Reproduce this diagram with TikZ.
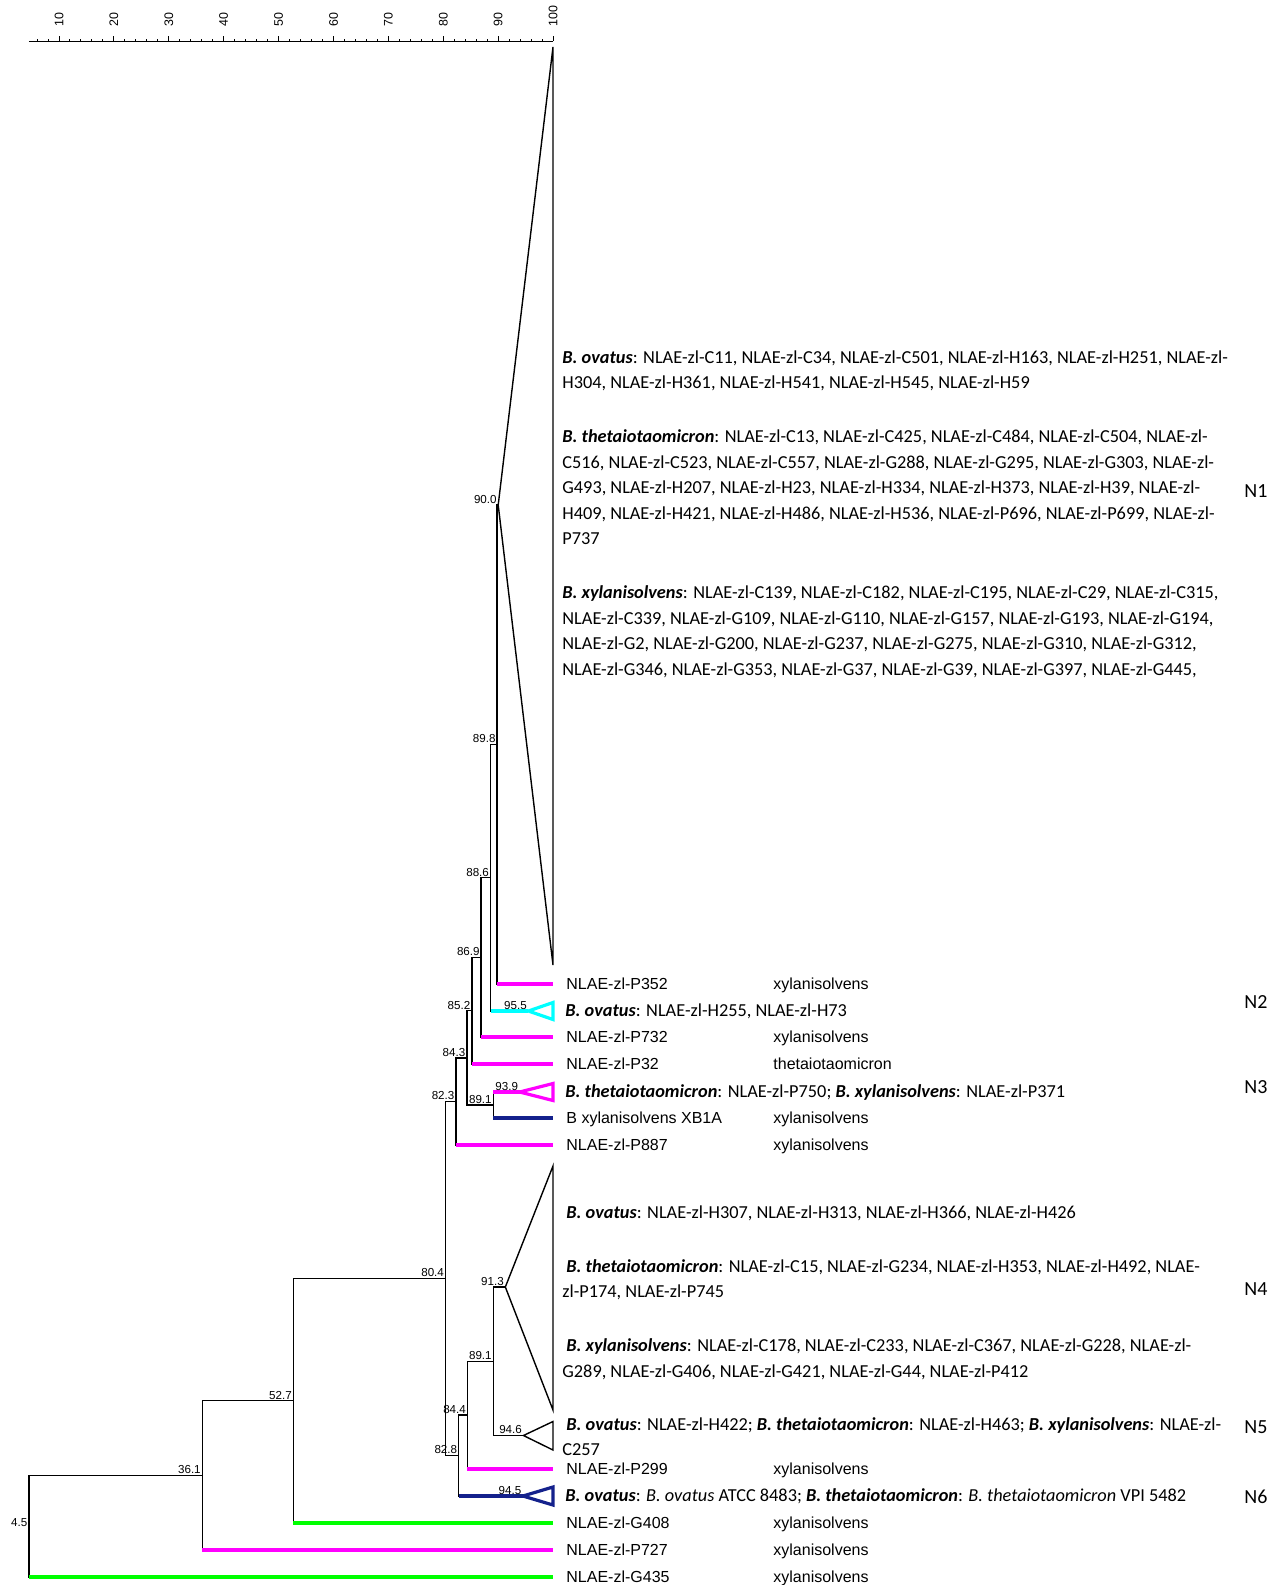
\documentclass[tikz,border=0pt]{standalone}
\usepackage{fontspec}
\setmainfont{Liberation Sans}
\newfontfamily\calib{Carlito}
\usetikzlibrary{calc,positioning}
\definecolor{treeMagenta}{HTML}{FF00FF}
\definecolor{treeCyan}{HTML}{00FFFF}
\definecolor{treeNavy}{HTML}{14218C}
\definecolor{treeGreen}{HTML}{00FF00}
\newcommand{\taxon}[1]{\textbf{\textit{#1}}}

\begin{document}
\begin{tikzpicture}[
  x=0.5pt, y=-0.5pt,
  declare function={bx(\v)=4.1+5.49*\v;},
  tree/.style={line width=0.7pt, black, line cap=rect},
  magline/.style={line width=1.6pt, treeMagenta},
  cyanline/.style={line width=1.6pt, treeCyan},
  navyline/.style={line width=1.6pt, treeNavy},
  greenline/.style={line width=1.6pt, treeGreen},
  ruler/.style={line width=0.5pt, black},
  boot/.style={font=\fontsize{5.8}{6}\selectfont, inner sep=0.6pt, anchor=south east},
  scalelab/.style={font=\fontsize{6.2}{7}\selectfont, inner sep=0pt, rotate=90, anchor=west},
  leaflab/.style={font=\fontsize{8}{9.6}\selectfont, inner sep=0pt, anchor=west, text height=5.7pt, text depth=0pt},
  grouplab/.style={font=\calib\fontsize{9.15}{12.75}\selectfont, inner sep=0pt, align=left, anchor=north west},
  clustlab/.style={font=\calib\fontsize{10}{12}\selectfont, inner sep=0pt},
]
\useasboundingbox (0,0) rectangle (1286,1585);

% Scale bar
\draw[ruler] ({bx(4.5)},41) -- (553,41);
\foreach \v in {6,8,...,98} {
  \draw[ruler] ({bx(\v)},41) -- ({bx(\v)},38.5);
}
\foreach \v in {10,20,...,100} {
  \draw[ruler] ({bx(\v)},41) -- ({bx(\v)},35.5);
  \node[scalelab] (sc\v) at ({bx(\v)},27) {\v};
}

% Collapsed clades (apex and corners)
\coordinate (n1) at ({bx(90.0)},505);
\coordinate (n1t) at (553,47);
\coordinate (n1b) at (553,965);
\coordinate (n2) at ({bx(95.5)},1011);
\coordinate (n2t) at (553,1002.5);
\coordinate (n2b) at (553,1019.5);
\coordinate (n3) at ({bx(93.9)},1092);
\coordinate (n3t) at (553,1083.5);
\coordinate (n3b) at (553,1100.5);
\coordinate (n4) at ({bx(91.3)},1287);
\coordinate (n4t) at (553,1166);
\coordinate (n4b) at (553,1410);
\coordinate (n5) at ({bx(94.6)},1435.5);
\coordinate (n5t) at (553,1421.5);
\coordinate (n5b) at (553,1450);
\coordinate (n6) at ({bx(94.5)},1496);
\coordinate (n6t) at (553,1487);
\coordinate (n6b) at (553,1505);

% Internal nodes
\coordinate (n898) at ({bx(89.8)},744.5);
\coordinate (n886) at ({bx(88.6)},877.75);
\coordinate (n869) at ({bx(86.9)},957.4);
\coordinate (n852) at ({bx(85.2)},1010.7);
\coordinate (n891a) at ({bx(89.1)},1105);
\coordinate (n843) at ({bx(84.3)},1057.9);
\coordinate (n823) at ({bx(82.3)},1101.4);
\coordinate (n891b) at ({bx(89.1)},1361.25);
\coordinate (n844) at ({bx(84.4)},1415.1);
\coordinate (n828) at ({bx(82.8)},1455.6);
\coordinate (n804) at ({bx(80.4)},1278.5);
\coordinate (n527) at ({bx(52.7)},1400.75);
\coordinate (n361) at ({bx(36.1)},1475.4);
\coordinate (n45) at ({bx(4.5)},1526.2);

% Single isolates
\foreach \n/\y/\lab/\kind in {
  P352/984/NLAE-zl-P352/xylanisolvens,
  P732/1037/NLAE-zl-P732/xylanisolvens,
  P32/1064/NLAE-zl-P32/thetaiotaomicron,
  XB1A/1118/B xylanisolvens XB1A/xylanisolvens,
  P887/1145/NLAE-zl-P887/xylanisolvens,
  P299/1469/NLAE-zl-P299/xylanisolvens,
  G408/1523/NLAE-zl-G408/xylanisolvens,
  P727/1550/NLAE-zl-P727/xylanisolvens,
  G435/1577/NLAE-zl-G435/xylanisolvens} {
  \coordinate (l\n) at (553,\y);
  \node[leaflab] (t\n) at (566,\y) {\lab};
  \node[leaflab] (s\n) at (773,\y) {\kind};
}

% Branches
\foreach \p/\c/\s in {
  n898/n1/tree, n898/lP352/magline,
  n886/n898/tree, n886/n2/cyanline,
  n869/n886/tree, n869/lP732/magline,
  n852/n869/tree, n852/lP32/magline,
  n891a/n3/magline, n891a/lXB1A/navyline,
  n843/n852/tree, n843/n891a/tree,
  n823/n843/tree, n823/lP887/magline,
  n891b/n4/tree, n891b/n5/tree,
  n844/n891b/tree, n844/lP299/magline,
  n828/n844/tree, n828/n6/navyline,
  n804/n823/tree, n804/n828/tree,
  n527/n804/tree, n527/lG408/greenline,
  n361/n527/tree, n361/lP727/magline,
  n45/n361/tree, n45/lG435/greenline} {
  \draw[tree] (\p) -- (\p |- \c);
  \draw[\s] (\p |- \c) -- (\c);
}

% Triangles
\draw[tree, line cap=butt] (n1) -- (n1t) -- (n1b) -- cycle;
\draw[cyanline] (n2) -- (n2t) -- (n2b) -- cycle;
\draw[magline] (n3) -- (n3t) -- (n3b) -- cycle;
\draw[tree, line cap=butt] (n4) -- (n4t) -- (n4b) -- cycle;
\draw[tree, line cap=butt] (n5) -- (n5t) -- (n5b) -- cycle;
\draw[navyline] (n6) -- (n6t) -- (n6b) -- cycle;

% Similarity values
\foreach \c/\v in {n1/90.0, n898/89.8, n886/88.6, n869/86.9, n852/85.2,
  n2/95.5, n3/93.9, n891a/89.1, n843/84.3, n823/82.3, n4/91.3, n5/94.6,
  n891b/89.1, n844/84.4, n6/94.5, n828/82.8, n804/80.4, n527/52.7, n361/36.1} {
  \node[boot] (b\c) at (\c) {\v};
}
\node[boot, anchor=east, yshift=2pt] (bn45) at (n45) {4.5};

% Group texts
\node[grouplab] (tN1) at (562,350) {%
\taxon{B. ovatus}: NLAE-zl-C11, NLAE-zl-C34, NLAE-zl-C501, NLAE-zl-H163, NLAE-zl-H251, NLAE-zl-\\
H304, NLAE-zl-H361, NLAE-zl-H541, NLAE-zl-H545, NLAE-zl-H59\\[14.25pt]
\taxon{B. thetaiotaomicron}: NLAE-zl-C13, NLAE-zl-C425, NLAE-zl-C484, NLAE-zl-C504, NLAE-zl-\\
C516, NLAE-zl-C523, NLAE-zl-C557, NLAE-zl-G288, NLAE-zl-G295, NLAE-zl-G303, NLAE-zl-\\
G493, NLAE-zl-H207, NLAE-zl-H23, NLAE-zl-H334, NLAE-zl-H373, NLAE-zl-H39, NLAE-zl-\\
H409, NLAE-zl-H421, NLAE-zl-H486, NLAE-zl-H536, NLAE-zl-P696, NLAE-zl-P699, NLAE-zl-\\
P737\\[14.25pt]
\taxon{B. xylanisolvens}: NLAE-zl-C139, NLAE-zl-C182, NLAE-zl-C195, NLAE-zl-C29, NLAE-zl-C315,\\
NLAE-zl-C339, NLAE-zl-G109, NLAE-zl-G110, NLAE-zl-G157, NLAE-zl-G193, NLAE-zl-G194,\\
NLAE-zl-G2, NLAE-zl-G200, NLAE-zl-G237, NLAE-zl-G275, NLAE-zl-G310, NLAE-zl-G312,\\
NLAE-zl-G346, NLAE-zl-G353, NLAE-zl-G37, NLAE-zl-G39, NLAE-zl-G397, NLAE-zl-G445,};

\node[grouplab] (tN2) at (565,1003) {\taxon{B. ovatus}: NLAE-zl-H255, NLAE-zl-H73};
\node[grouplab] (tN3) at (565,1084) {\taxon{B. thetaiotaomicron}: NLAE-zl-P750; \taxon{B. xylanisolvens}: NLAE-zl-P371};

\node[grouplab] (tN4) at (562,1205) {%
\hspace*{2pt}\taxon{B. ovatus}: NLAE-zl-H307, NLAE-zl-H313, NLAE-zl-H366, NLAE-zl-H426\\[14.25pt]
\hspace*{2pt}\taxon{B. thetaiotaomicron}: NLAE-zl-C15, NLAE-zl-G234, NLAE-zl-H353, NLAE-zl-H492, NLAE-\\
zl-P174, NLAE-zl-P745\\[14.25pt]
\hspace*{2pt}\taxon{B. xylanisolvens}: NLAE-zl-C178, NLAE-zl-C233, NLAE-zl-C367, NLAE-zl-G228, NLAE-zl-\\
G289, NLAE-zl-G406, NLAE-zl-G421, NLAE-zl-G44, NLAE-zl-P412};

\node[grouplab] (tN5) at (562,1417) {%
\hspace*{2pt}\taxon{B. ovatus}: NLAE-zl-H422; \taxon{B. thetaiotaomicron}: NLAE-zl-H463; \taxon{B. xylanisolvens}: NLAE-zl-\\
C257};
\node[grouplab] (tN6) at (565,1488) {\taxon{B. ovatus}: \textit{B. ovatus} ATCC 8483; \taxon{B. thetaiotaomicron}: \textit{B. thetaiotaomicron} VPI 5482};

% Cluster names
\node[clustlab] (cN1) at (1256,491) {N1};
\node[clustlab] (cN2) at (1256,1002) {N2};
\node[clustlab] (cN3) at (1256,1087) {N3};
\node[clustlab] (cN4) at (1256,1289) {N4};
\node[clustlab] (cN5) at (1256,1427) {N5};
\node[clustlab] (cN6) at (1256,1497) {N6};
\end{tikzpicture}
\end{document}
